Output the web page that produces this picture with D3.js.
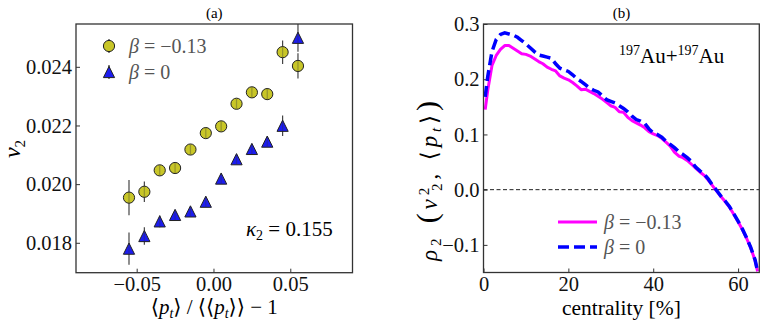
<!DOCTYPE html>
<html>
<head>
<meta charset="utf-8">
<script src="https://cdn.jsdelivr.net/npm/d3@7"></script>
<style>
  body { margin: 0; background: #fff; }
  svg { display: block; }
  .domain { display: none; }
  .tick line { stroke: #333; stroke-width: 1; }
</style>
</head>
<body>
<div id="chart"></div>
<script>
  // panel (a): v2 vs <pt>/<<pt>> - 1
  var ptBins = [-0.055, -0.045, -0.035, -0.025, -0.015, -0.005, 0.005, 0.015, 0.025, 0.035, 0.045, 0.055];
  var v2Neg = [0.01954, 0.01974, 0.02047, 0.02055, 0.02118, 0.02174, 0.02197, 0.02274, 0.02313, 0.02307, 0.02450, 0.02403];
  var v2NegErr = [0.0006, 0.00035, 0.00018, 0.00015, 0.00015, 0.00015, 0.00015, 0.00015, 0.00015, 0.0002, 0.0004, 0.00043];
  var v2Zero = [0.01780, 0.01823, 0.01873, 0.01895, 0.01907, 0.01940, 0.02019, 0.02085, 0.02120, 0.02145, 0.02199, 0.02499];
  var v2ZeroErr = [0.00055, 0.0003, 0.0002, 0.00015, 0.00015, 0.00015, 0.00015, 0.00015, 0.00015, 0.00015, 0.00035, 0.00048];
  var aTicksX = [-0.05, 0, 0.05];
  var aTicksY = [0.018, 0.020, 0.022, 0.024];

  // panel (b): rho2 vs centrality
  var centrality = [0.4, 1, 2, 3, 4, 5, 6, 7, 8, 9, 10, 11, 12, 13, 14, 15, 16, 17, 18, 19, 20,
    21, 22, 23, 24, 25, 26, 27, 28, 29, 30, 31, 32, 33, 34, 35, 36, 37, 38, 39, 40,
    41, 42, 43, 44, 45, 46, 47, 48, 49, 50, 51, 52, 53, 54, 55, 56, 57, 58, 59, 60,
    61, 62, 63, 64, 64.6];
  var rhoNeg = [0.145, 0.180, 0.225, 0.243, 0.254, 0.261, 0.261, 0.256, 0.251, 0.246, 0.245,
    0.242, 0.237, 0.232, 0.228, 0.222, 0.218, 0.215, 0.206, 0.202, 0.199,
    0.194, 0.188, 0.181, 0.182, 0.178, 0.174, 0.169, 0.164, 0.158, 0.152,
    0.149, 0.141, 0.140, 0.131, 0.125, 0.121, 0.117, 0.112, 0.105, 0.101,
    0.098, 0.093, 0.086, 0.079, 0.068, 0.061, 0.058, 0.053, 0.046, 0.039,
    0.032, 0.026, 0.017, 0.007, -0.003, -0.013, -0.022, -0.032, -0.045, -0.058,
    -0.072, -0.088, -0.106, -0.128, -0.148];
  var rhoZero = [0.168, 0.205, 0.250, 0.272, 0.281, 0.284, 0.282, 0.280, 0.276, 0.270, 0.264,
    0.257, 0.250, 0.244, 0.242, 0.240, 0.238, 0.228, 0.220, 0.217, 0.214,
    0.208, 0.201, 0.196, 0.190, 0.184, 0.180, 0.177, 0.170, 0.163, 0.160,
    0.157, 0.152, 0.147, 0.141, 0.133, 0.127, 0.124, 0.120, 0.110, 0.103,
    0.100, 0.095, 0.088, 0.082, 0.076, 0.069, 0.064, 0.058, 0.051, 0.041,
    0.034, 0.028, 0.019, 0.008, -0.002, -0.012, -0.021, -0.031, -0.044, -0.057,
    -0.071, -0.087, -0.105, -0.127, -0.148];
  var bTicksX = [0, 20, 40, 60];
  var bTicksY = [-0.1, 0.0, 0.1, 0.2, 0.3];

  var FONT = "'Liberation Serif', 'DejaVu Serif', serif";
  var W = 764, H = 323;
  var svg = d3.select("#chart").append("svg")
    .attr("width", W)
    .attr("height", H);

  var frameA = {x0: 76, x1: 352.5, y0: 24, y1: 272.7};
  var frameB = {x0: 483.5, x1: 759.3, y0: 24, y1: 272.5};

  function label(g, x, y, size) {
    return g.append("text").attr("x", x).attr("y", y)
      .style("font-family", FONT).style("font-size", size + "px");
  }
  function styleTicks(axisG) {
    axisG.selectAll(".tick text")
      .style("font-family", FONT).style("font-size", "20.5px").style("fill", "#111");
  }

  // ---------- panel (a) ----------
  var xa = d3.scaleLinear().domain([-0.0895, 0.0905]).range([frameA.x0, frameA.x1]);
  var ya = d3.scaleLinear().domain([0.01698, 0.02546]).range([frameA.y1, frameA.y0]);

  var ga = svg.append("g");
  ga.append("g")
    .attr("transform", "translate(0," + frameA.y1 + ")")
    .call(d3.axisBottom(xa).tickValues(aTicksX).tickSize(-4).tickPadding(4)
      .tickFormat(function(d) { return d3.format(".2f")(d).replace("-", "\u2212"); }))
    .call(styleTicks);
  ga.append("g")
    .attr("transform", "translate(" + frameA.x0 + ",0)")
    .call(d3.axisLeft(ya).tickValues(aTicksY).tickSize(-4).tickPadding(4).tickFormat(d3.format(".3f")))
    .call(styleTicks);

  svg.append("clipPath").attr("id", "clipA").append("rect")
    .attr("x", frameA.x0).attr("y", frameA.y0)
    .attr("width", frameA.x1 - frameA.x0).attr("height", frameA.y1 - frameA.y0);

  var plotA = ga.append("g").attr("clip-path", "url(#clipA)");

  function triPath(cx, cy, s) {
    return "M" + cx + "," + (cy - s) + "L" + (cx + s) + "," + (cy + s) + "L" + (cx - s) + "," + (cy + s) + "Z";
  }

  // error bars below the markers
  function errBars(vals, errs) {
    plotA.append("g").selectAll("line")
      .data(ptBins)
      .enter().append("line")
      .attr("x1", function(d) { return xa(d); })
      .attr("x2", function(d) { return xa(d); })
      .attr("y1", function(d, i) { return ya(vals[i] - errs[i]); })
      .attr("y2", function(d, i) { return ya(vals[i] + errs[i]); })
      .style("stroke", "#444")
      .style("stroke-width", 1.2);
  }
  errBars(v2Neg, v2NegErr);
  errBars(v2Zero, v2ZeroErr);

  plotA.append("g").selectAll("circle")
    .data(ptBins)
    .enter().append("circle")
    .attr("cx", function(d) { return xa(d); })
    .attr("cy", function(d, i) { return ya(v2Neg[i]); })
    .attr("r", 5.6)
    .style("fill", "#c8c628")
    .style("stroke", "#222")
    .style("stroke-width", 1);

  plotA.append("g").selectAll("path")
    .data(ptBins)
    .enter().append("path")
    .attr("d", function(d, i) { return triPath(xa(d), ya(v2Zero[i]), 5.6); })
    .style("fill", "#1c1cf0")
    .style("stroke", "#222")
    .style("stroke-width", 1);

  // error bar line visible through the markers
  plotA.append("g").selectAll("line")
    .data(ptBins.concat(ptBins))
    .enter().append("line")
    .attr("x1", function(d) { return xa(d); })
    .attr("x2", function(d) { return xa(d); })
    .attr("y1", function(d, i) { var v = i < 12 ? v2Neg[i] : v2Zero[i - 12]; return ya(v) - 5; })
    .attr("y2", function(d, i) { var v = i < 12 ? v2Neg[i] : v2Zero[i - 12]; return ya(v) + 5; })
    .style("stroke", "#333")
    .style("stroke-opacity", 0.35)
    .style("stroke-width", 1.2);

  ga.append("rect")
    .attr("x", frameA.x0).attr("y", frameA.y0)
    .attr("width", frameA.x1 - frameA.x0).attr("height", frameA.y1 - frameA.y0)
    .style("fill", "none").style("stroke", "#333").style("stroke-width", 1.3);

  // legend (a)
  var lg = ga.append("g").attr("transform", "translate(109,0)");
  lg.append("line").attr("x1", 0).attr("x2", 0).attr("y1", 39).attr("y2", 53).style("stroke", "#333").style("stroke-width", 1.2);
  lg.append("circle").attr("cx", 0).attr("cy", 46).attr("r", 5.6)
    .style("fill", "#c8c628").style("stroke", "#222");
  lg.append("line").attr("x1", 0).attr("x2", 0).attr("y1", 65).attr("y2", 79).style("stroke", "#333").style("stroke-width", 1.2);
  lg.append("path").attr("d", triPath(0, 72, 5.6))
    .style("fill", "#1c1cf0").style("stroke", "#222");
  label(lg, 20, 53, 20).style("fill", "#555")
    .html('<tspan font-style="italic">β</tspan> = −0.13');
  label(lg, 20, 79, 20).style("fill", "#555")
    .html('<tspan font-style="italic">β</tspan> = 0');

  label(ga, 246, 236, 21)
    .html('<tspan font-style="italic">κ</tspan><tspan font-size="14px" dy="4">2</tspan><tspan dy="-4"> = 0.155</tspan>');

  label(ga, (frameA.x0 + frameA.x1) / 2, 18, 15)
    .attr("text-anchor", "middle").text("(a)");

  label(ga, (frameA.x0 + frameA.x1) / 2, 314, 21)
    .attr("text-anchor", "middle")
    .html('⟨<tspan font-style="italic">p</tspan><tspan font-style="italic" font-size="14px" dy="4">t</tspan><tspan dy="-4">⟩ / ⟨⟨</tspan><tspan font-style="italic">p</tspan><tspan font-style="italic" font-size="14px" dy="4">t</tspan><tspan dy="-4">⟩⟩ − 1</tspan>');

  label(ga, 0, 0, 24).attr("transform", "translate(20,149) rotate(-90)")
    .attr("text-anchor", "middle")
    .html('<tspan font-style="italic">v</tspan><tspan font-size="15px" dy="5">2</tspan>');

  // ---------- panel (b) ----------
  var xb = d3.scaleLinear().domain([0, 65]).range([frameB.x0, frameB.x1]);
  var yb = d3.scaleLinear().domain([-0.15, 0.3]).range([frameB.y1, frameB.y0]);

  var gb = svg.append("g");
  gb.append("g")
    .attr("transform", "translate(0," + frameB.y1 + ")")
    .call(d3.axisBottom(xb).tickValues(bTicksX).tickSize(-4).tickPadding(4).tickFormat(d3.format("d")))
    .call(styleTicks);
  gb.append("g")
    .attr("transform", "translate(" + frameB.x0 + ",0)")
    .call(d3.axisLeft(yb).tickValues(bTicksY).tickSize(-4).tickPadding(4)
      .tickFormat(function(d) { return d3.format(".1f")(d).replace("-", "\u2212"); }))
    .call(styleTicks);

  svg.append("clipPath").attr("id", "clipB").append("rect")
    .attr("x", frameB.x0).attr("y", frameB.y0)
    .attr("width", frameB.x1 - frameB.x0).attr("height", frameB.y1 - frameB.y0);
  var plotB = gb.append("g").attr("clip-path", "url(#clipB)");

  plotB.append("line")
    .attr("x1", frameB.x0).attr("x2", frameB.x1)
    .attr("y1", yb(0)).attr("y2", yb(0))
    .style("stroke", "#222").style("stroke-width", 1).style("stroke-dasharray", "4,2.5");

  var line = d3.line()
    .x(function(d, i) { return xb(centrality[i]); })
    .y(function(d) { return yb(d); });

  plotB.append("path").datum(rhoNeg)
    .attr("d", line)
    .style("fill", "none").style("stroke", "#ff00ff").style("stroke-width", 3)
    .style("stroke-linejoin", "round");
  plotB.append("path").datum(rhoZero)
    .attr("d", line)
    .style("fill", "none").style("stroke", "#0000ff").style("stroke-width", 3.5)
    .style("stroke-dasharray", "11,5");

  gb.append("rect")
    .attr("x", frameB.x0).attr("y", frameB.y0)
    .attr("width", frameB.x1 - frameB.x0).attr("height", frameB.y1 - frameB.y0)
    .style("fill", "none").style("stroke", "#333").style("stroke-width", 1.3);

  // legend (b)
  gb.append("line").attr("x1", 558).attr("x2", 597).attr("y1", 222).attr("y2", 222)
    .style("stroke", "#ff00ff").style("stroke-width", 3);
  gb.append("line").attr("x1", 558).attr("x2", 597).attr("y1", 247).attr("y2", 247)
    .style("stroke", "#0000ff").style("stroke-width", 3.5).style("stroke-dasharray", "11,5");
  label(gb, 604, 229, 20).style("fill", "#555")
    .html('<tspan font-style="italic">β</tspan> = −0.13');
  label(gb, 604, 254, 20).style("fill", "#555")
    .html('<tspan font-style="italic">β</tspan> = 0');

  label(gb, 619, 63, 21)
    .html('<tspan font-size="14px" dy="-8">197</tspan><tspan dy="8">Au+</tspan><tspan font-size="14px" dy="-8">197</tspan><tspan dy="8">Au</tspan>');

  label(gb, (frameB.x0 + frameB.x1) / 2, 18, 15)
    .attr("text-anchor", "middle").text("(b)");

  label(gb, (frameB.x0 + frameB.x1) / 2, 315, 21.5)
    .attr("text-anchor", "middle").text("centrality [%]");

  label(gb, 0, 0, 23).attr("transform", "translate(437,181) rotate(-90)")
    .attr("text-anchor", "middle")
    .attr("textLength", 160).attr("lengthAdjust", "spacing")
    .html('<tspan font-style="italic">ρ</tspan><tspan font-size="15px" dy="4">2</tspan><tspan dy="-4" font-size="30px"> (</tspan><tspan font-style="italic">v</tspan><tspan font-size="15px" dy="-8">2</tspan><tspan font-size="15px" dx="-7" dy="13">2</tspan><tspan dy="-5">, ⟨</tspan><tspan font-style="italic">p</tspan><tspan font-style="italic" font-size="15px" dy="4">t</tspan><tspan dy="-4">⟩</tspan><tspan font-size="30px">)</tspan>');
</script>
</body>
</html>
